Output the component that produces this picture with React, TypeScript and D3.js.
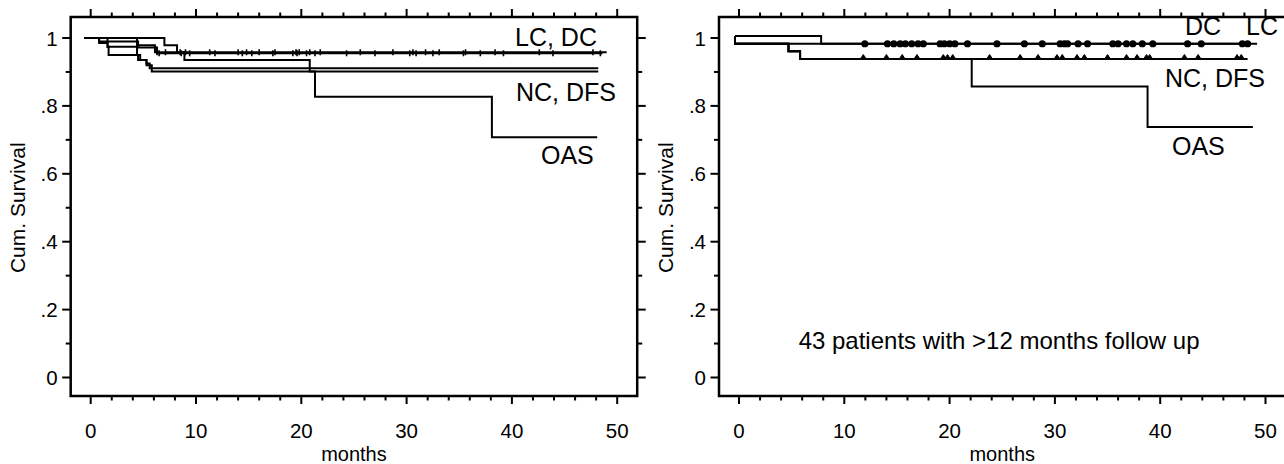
import React from 'react';
import * as d3 from 'd3';

// survival curves, [month, cumulative survival]; last point = end of follow up
const leftLC = [[-0.6, 1], [4.4, 0.979], [6.1, 0.958], [49.0, 0.958]];
const leftDC = [[-0.6, 1], [0.8, 0.99], [4.5, 0.972], [6.3, 0.955], [48.6, 0.955]];
const leftNC = [[-0.6, 1], [0.8, 0.985], [1.6, 0.974], [1.7, 0.95], [4.5, 0.935], [5.3, 0.925], [5.6, 0.911], [48.2, 0.911]];
const leftDFS = [[-0.6, 1], [1.6, 0.974], [4.4, 0.95], [4.7, 0.935], [5.3, 0.92], [5.8, 0.901], [48.2, 0.901]];
const leftOAS = [[-0.6, 1], [7.0, 0.979], [8.2, 0.958], [8.9, 0.935], [20.8, 0.901], [21.3, 0.827], [38.1, 0.708], [48.1, 0.708]];

const leftLCCensor = [6.3, 7.1, 8.5, 9.0, 11.3, 14.0, 14.8, 16.0, 17.5, 19.5, 19.8, 20.8, 21.8, 25.6, 28.7, 30.6, 31.8, 33.1, 35.6, 38.4, 42.6, 47.7];
const leftDCCensor = [6.5, 8.6, 9.4, 11.8, 14.4, 15.3, 17.3, 19.2, 19.6, 20.5, 21.3, 24.3, 27.0, 30.3, 30.9, 32.5, 35.4, 37.0, 39.2, 43.9, 48.4];

const rightDC = [[-0.38, 1.006], [7.8, 0.983], [48.6, 0.983]];
const rightLC = [[-0.38, 1.006], [-0.38, 0.983], [49.2, 0.983]];
const rightNC = [[-0.38, 1.006], [-0.38, 0.983], [4.7, 0.961], [5.8, 0.938], [48.3, 0.938]];
const rightDFS = [[-0.38, 1.006], [-0.38, 0.983], [4.7, 0.961], [5.8, 0.938], [48.1, 0.938]];
const rightOAS = [[-0.38, 1.006], [-0.38, 0.983], [4.7, 0.961], [5.8, 0.938], [22.1, 0.857], [38.8, 0.738], [48.8, 0.738]];

const rightDotCensor = [11.95, 14.1, 14.7, 15.3, 15.8, 16.4, 17.0, 17.5, 19.1, 19.5, 20.0, 20.5, 21.7, 24.5, 27.1, 28.8, 30.5, 30.9, 31.2, 32.2, 33.1, 35.5, 36.0, 36.8, 37.4, 38.3, 39.3, 42.6, 43.9, 47.8, 48.3];
const rightTriCensor = [11.8, 14.0, 15.5, 16.9, 19.4, 19.8, 20.3, 23.8, 26.7, 28.4, 30.2, 30.7, 32.1, 32.8, 35.0, 36.8, 37.8, 38.7, 39.0, 42.3, 43.6, 47.3, 47.7];

const xTickValues = [0, 10, 20, 30, 40, 50];
const yTickValues = [0, 0.2, 0.4, 0.6, 0.8, 1];
const yTickLabels = ['0', '.2', '.4', '.6', '.8', '1'];

const FONT = '"Liberation Sans", Arial, sans-serif';

type Pt = number[];

const Panel = ({ x0, curves, labels, note, censor }: any) => {
  const x = d3.scaleLinear().domain([0, 50]).range([x0, x0 + 526.5]);
  const y = d3.scaleLinear().domain([0, 1]).range([377.5, 38]);
  const left = x(-1.9), right = x(51.9), top = 17, bottom = 396;

  const line = d3.line<Pt>()
    .x(d => x(d[0]))
    .y(d => y(d[1]))
    .curve(d3.curveStepAfter);

  const minorX = d3.range(0, 51, 2);
  const minorY = d3.range(0, 11).map(i => i / 10);

  return (
    <g>
      {/* frame */}
      <rect x={left} y={top} width={right - left} height={bottom - top} fill="none" stroke="#000" strokeWidth={2.5} />

      {/* x ticks top & bottom */}
      {minorX.map(v => {
        const len = v % 10 === 0 ? 8 : 4.5;
        return (
          <g key={'x' + v}>
            <line x1={x(v)} x2={x(v)} y1={top} y2={top - len} stroke="#000" strokeWidth={2} />
            <line x1={x(v)} x2={x(v)} y1={bottom} y2={bottom + len} stroke="#000" strokeWidth={2} />
          </g>
        );
      })}
      {xTickValues.map(v => (
        <text key={'xl' + v} x={x(v)} y={437.5} textAnchor="middle" fontSize={20.5} fontFamily={FONT}>{v}</text>
      ))}
      <text x={x(25)} y={461} textAnchor="middle" fontSize={20} fontFamily={FONT}>months</text>

      {/* y ticks left & right */}
      {minorY.map((v, i) => {
        const len = i % 2 === 0 ? 8.5 : 5;
        return (
          <g key={'y' + i}>
            <line x1={left} x2={left - len} y1={y(v)} y2={y(v)} stroke="#000" strokeWidth={2} />
            <line x1={right} x2={right + len} y1={y(v)} y2={y(v)} stroke="#000" strokeWidth={2} />
          </g>
        );
      })}
      {yTickValues.map((v, i) => (
        <text key={'yl' + i} x={left - 13} y={y(v) + 7.5} textAnchor="end" fontSize={20.5} fontFamily={FONT}>{yTickLabels[i]}</text>
      ))}
      <text transform={`translate(${left - 46},${y(0.5)}) rotate(-90)`} textAnchor="middle" fontSize={21} fontFamily={FONT}>Cum. Survival</text>

      {/* curves */}
      {curves.map((c: Pt[], i: number) => (
        <path key={'c' + i} d={line(c) || ''} fill="none" stroke="#000" strokeWidth={2} />
      ))}

      {/* censored cases */}
      {censor.map((cs: any, i: number) => cs.times.map((t: number, j: number) => {
        const cx = x(t), cy = y(cs.level);
        if (cs.kind === 'dot') return <circle key={`d${i}-${j}`} cx={cx} cy={cy} r={3.6} fill="#000" />;
        if (cs.kind === 'tri') return <path key={`t${i}-${j}`} d={`M${cx - 3},${cy} L${cx},${cy - 4.5} L${cx + 3},${cy} Z`} fill="#000" stroke="#000" strokeWidth={1} />;
        return <line key={`k${i}-${j}`} x1={cx} x2={cx} y1={cy - 3} y2={cy + 3} stroke="#000" strokeWidth={1.6} />;
      }))}

      {labels.map((l: any, i: number) => (
        <text key={'lab' + i} x={l.x} y={l.y} fontSize={25} fontFamily={FONT}>{l.text}</text>
      ))}
      {note && (
        <text x={x(24.7)} y={349} textAnchor="middle" fontSize={24} fontFamily={FONT}>{note}</text>
      )}
    </g>
  );
};

export default function App() {
  return (
    <svg width={1284} height={464} style={{ position: 'absolute', left: 0, top: 0 }}>
      <rect width={1284} height={464} fill="#fff" />
      <Panel
        x0={90.7}
        curves={[leftLC, leftDC, leftNC, leftDFS, leftOAS]}
        censor={[
          { kind: 'tick', level: 0.958, times: leftLCCensor },
          { kind: 'tick', level: 0.955, times: leftDCCensor },
        ]}
        labels={[
          { text: 'LC, DC', x: 515, y: 46 },
          { text: 'NC, DFS', x: 516, y: 101 },
          { text: 'OAS', x: 541, y: 164 },
        ]}
      />
      <Panel
        x0={739}
        curves={[rightDC, rightLC, rightNC, rightDFS, rightOAS]}
        censor={[
          { kind: 'dot', level: 0.983, times: rightDotCensor },
          { kind: 'tri', level: 0.938, times: rightTriCensor },
        ]}
        labels={[
          { text: 'DC', x: 1185, y: 35 },
          { text: 'LC', x: 1246, y: 35 },
          { text: 'NC, DFS', x: 1165, y: 87 },
          { text: 'OAS', x: 1172, y: 155 },
        ]}
        note="43 patients with >12 months follow up"
      />
    </svg>
  );
}
